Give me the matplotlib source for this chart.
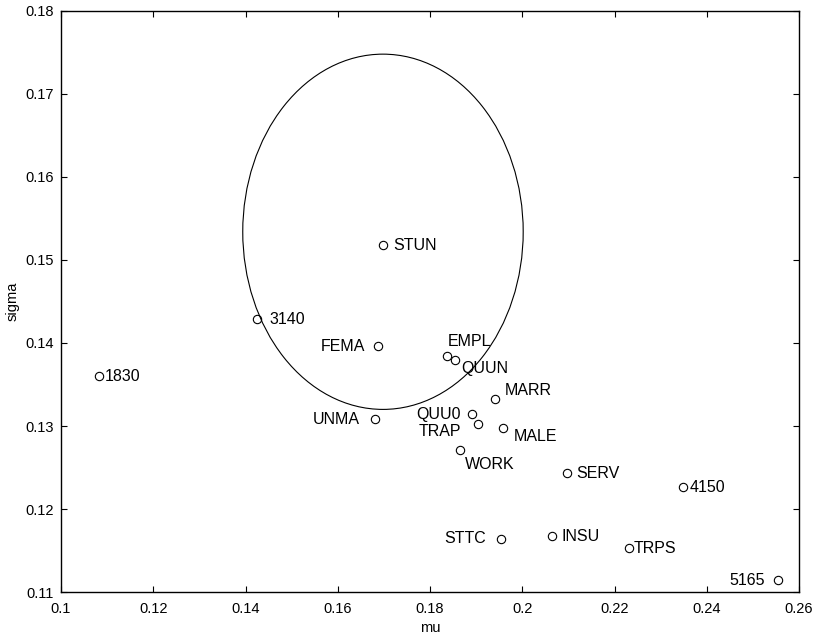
import numpy as np
import matplotlib
matplotlib.use('Agg')
import matplotlib.pyplot as plt
from matplotlib.patches import Ellipse

plt.rcParams['font.family'] = ['Liberation Sans', 'DejaVu Sans']

# point names and coordinates (mu, sigma)
names = ['1830', '3140', 'FEMA', 'STUN', 'UNMA', 'EMPL', 'QUUN', 'MARR', 'QUU0',
         'TRAP', 'MALE', 'WORK', 'SERV', '4150', 'STTC', 'INSU', 'TRPS', '5165']
mu = [0.1083, 0.1424, 0.1688, 0.1697, 0.1681, 0.1836, 0.1854, 0.1941, 0.1892,
      0.1903, 0.1959, 0.1865, 0.2096, 0.2349, 0.1954, 0.2064, 0.2231, 0.2554]
sigma = [0.1360, 0.1429, 0.1396, 0.1518, 0.1309, 0.1384, 0.1380, 0.1333, 0.1314,
         0.1302, 0.1298, 0.1271, 0.1243, 0.1226, 0.1164, 0.1168, 0.1153, 0.1115]

# ellipse: center and half-axes
ell_center = (0.1698, 0.1534)
ell_radii = (0.0304, 0.0214)

xticks = [0.1, 0.12, 0.14, 0.16, 0.18, 0.2, 0.22, 0.24, 0.26]
xticklabels = ['0.1', '0.12', '0.14', '0.16', '0.18', '0.2', '0.22', '0.24', '0.26']
yticks = [0.11, 0.12, 0.13, 0.14, 0.15, 0.16, 0.17, 0.18]
yticklabels = ['0.11', '0.12', '0.13', '0.14', '0.15', '0.16', '0.17', '0.18']

# label offsets in pixels (dx, dy) and alignment
offs = {
    '1830': (5, 0, 'left'), '3140': (13, -1, 'left'), 'FEMA': (-13, 0, 'right'),
    'STUN': (11, 0, 'left'), 'UNMA': (-15, -1, 'right'), 'EMPL': (1, 15, 'left'),
    'QUUN': (6, -9, 'left'), 'MARR': (10, 8, 'left'), 'QUU0': (-12, 0, 'right'),
    'TRAP': (-16, -7, 'right'), 'MALE': (10, -9, 'left'), 'WORK': (5, -14, 'left'),
    'SERV': (10, 0, 'left'), '4150': (6, 0, 'left'), 'STTC': (-15, 0, 'right'),
    'INSU': (10, -1, 'left'), 'TRPS': (5, 0, 'left'), '5165': (-13, -1, 'right'),
}

fig = plt.figure(figsize=(8.18, 6.35), dpi=100)
ax = fig.add_axes([0.0746, 0.0677, 0.9022, 0.915])

ax.add_patch(Ellipse(ell_center, 2 * ell_radii[0], 2 * ell_radii[1],
                     fill=False, edgecolor='black', lw=0.8))

ax.plot(mu, sigma, 'o', mfc='none', mec='black', ms=6, mew=0.8, ls='none')

for n, x, y in zip(names, mu, sigma):
    dx, dy, ha = offs[n]
    ax.annotate(n, (x, y), xytext=(dx, dy), textcoords='offset pixels',
                ha=ha, va='center', fontsize=11.5)

ax.set_xlim(0.1, 0.26)
ax.set_ylim(0.11, 0.18)
ax.set_xticks(xticks)
ax.set_xticklabels(xticklabels)
ax.set_yticks(yticks)
ax.set_yticklabels(yticklabels)
ax.tick_params(direction='in', top=True, right=True, length=4, width=0.8,
               labelsize=10.5)
ax.tick_params(axis='x', pad=7)
ax.tick_params(axis='y', pad=5)
for s in ax.spines.values():
    s.set_linewidth(1.0)
ax.set_xlabel('mu', fontsize=10.5, labelpad=3.5)
ax.set_ylabel('sigma', fontsize=10.5, labelpad=4)

fig.savefig('out.png', dpi=100)
